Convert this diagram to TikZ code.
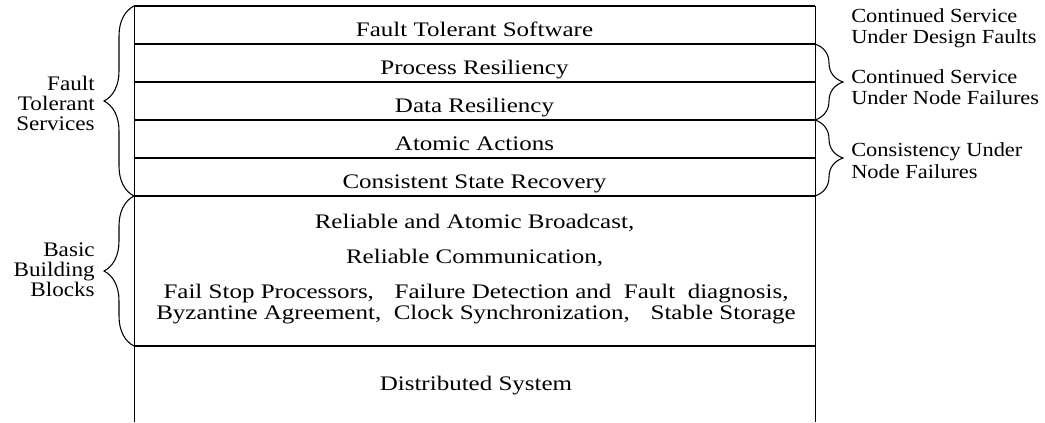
\documentclass[tikz,border=0pt]{standalone}
\usepackage{fontspec}
\setmainfont[FakeStretch=1.12]{Liberation Serif}
\newfontfamily\layerfont[FakeStretch=1.21]{Liberation Serif}
\usetikzlibrary{decorations.pathreplacing}
\usetikzlibrary{positioning}

\begin{document}
\begin{tikzpicture}[x=0.75pt,y=-0.75pt,
  txt/.style={font=\fontsize{15.5}{15}\selectfont, inner sep=0pt},
  rtxt/.style={font=\fontsize{15}{16}\selectfont, inner sep=0pt, align=left, anchor=west},
  layertxt/.style={font=\layerfont\fontsize{15.5}{12.75}\selectfont, inner sep=0pt, anchor=base},
  sep/.style={line width=1pt},
  brc/.style={decorate, decoration={brace, amplitude=#1}, line width=0.8pt}]

\useasboundingbox (0,0) rectangle (1045,422);

% layer boundaries
\foreach \y/\n in {6/0, 44/1, 82/2, 120/3, 158/4, 196/5, 346/6}
{
\coordinate (l\n) at (134,\y);
\coordinate (r\n) at (815,\y);
\draw[sep] (l\n) -- (r\n);
}
\coordinate (lb) at (134,422);
\coordinate (rb) at (815,422);
\draw (l0) -- (lb);
\draw (r0) -- (rb);

% layers
\node[layertxt] (fts) at (474.5,36) {Fault Tolerant Software};
\node[layertxt] (pr) at (474.5,74) {Process Resiliency};
\node[layertxt] (dr) at (474.5,112) {Data Resiliency};
\node[layertxt] (aa) at (474.5,150) {Atomic Actions};
\node[layertxt] (csr) at (474.5,188) {Consistent State Recovery};
\node[layertxt] (rab) at (474.5,228) {Reliable and Atomic Broadcast,};
\node[layertxt] (rc) at (474.5,263) {Reliable Communication,};
\node[layertxt, anchor=center, align=center] (fsp) at (476,304)
  {Fail Stop Processors,\quad Failure Detection and\ \ Fault\ \ diagnosis,\\
   Byzantine Agreement,\ \ Clock Synchronization,\quad Stable Storage};
\node[layertxt] (ds) at (476,390) {Distributed System};

% braces
\draw[brc=22.5pt] (l5) -- (l0);
\draw[brc=22.5pt] (l6) -- (l5);
\draw[brc=21pt] (r1) -- (r3);
\draw[brc=21pt] (r3) -- (r5);

% side labels
\node[txt, align=right, anchor=east] (ftsv) at (95,103) {Fault\\Tolerant\\Services};
\node[txt, align=right, anchor=east] (bbb) at (95,270) {Basic\\Building\\Blocks};
\node[rtxt] (csdf) at (851,28) {Continued Service\\Under Design Faults};
\node[rtxt] (csnf) at (851,87) {Continued Service\\Under Node Failures};
\node[rtxt] (cunf) at (851,160.5) {Consistency Under\\Node Failures};

\end{tikzpicture}
\end{document}
